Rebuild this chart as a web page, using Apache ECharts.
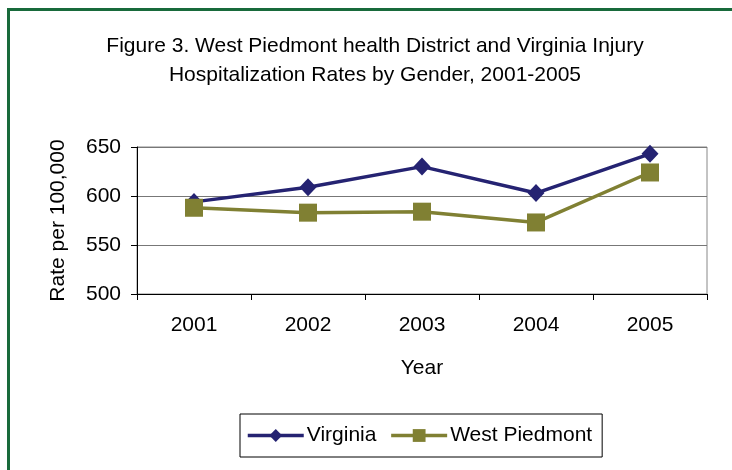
<!DOCTYPE html>
<html>
<head>
<meta charset="utf-8">
<script src="https://cdn.jsdelivr.net/npm/echarts@6/dist/echarts.min.js"></script>
<style>
  html, body { margin: 0; padding: 0; background: #fff; }
  #chart { width: 732px; height: 470px; }
</style>
</head>
<body>
<div id="chart"></div>
<script>
// data
const years = ['2001', '2002', '2003', '2004', '2005'];
const virginia = [594, 609, 630, 603, 643];
const westPiedmont = [588, 583, 584, 573, 624];
const yTicks = { min: 500, max: 650, step: 50 };

const font = '"Liberation Sans", Arial, sans-serif';
const myChart = echarts.init(document.getElementById('chart'));

const option = {
  backgroundColor: '#fff',
  animation: false,
  title: {
    text: 'Figure 3. West Piedmont health District and Virginia Injury\nHospitalization Rates by Gender, 2001-2005',
    left: 370,
    textAlign: 'center',
    top: 27,
    textStyle: { fontFamily: font, fontSize: 21, fontWeight: 'normal', color: '#000', lineHeight: 29 }
  },
  // green frame on the top/left edge
  graphic: [
    { type: 'rect', shape: { x: 7, y: 8, width: 730, height: 3 }, style: { fill: '#186a3b' } },
    { type: 'rect', shape: { x: 7, y: 8, width: 3, height: 470 }, style: { fill: '#186a3b' } }
  ],
  grid: {
    left: 137,
    right: 25,
    top: 147,
    bottom: 176,
    show: true,
    borderColor: '#888',
    borderWidth: 1
  },
  legend: {
    left: 240,
    top: 414,
    itemWidth: 56,
    itemHeight: 16,
    itemGap: 13,
    padding: [11, 10, 11, 6],
    borderColor: '#000',
    borderWidth: 1,
    lineStyle: { width: 3.5 },
    textStyle: { fontFamily: font, fontSize: 21, color: '#000', padding: [0, 0, 0, -2] },
    data: ['Virginia', 'West Piedmont']
  },
  xAxis: {
    type: 'category',
    data: years,
    boundaryGap: true,
    name: 'Year',
    nameLocation: 'middle',
    nameGap: 64,
    nameTextStyle: { fontFamily: font, fontSize: 21, color: '#000' },
    axisLine: { lineStyle: { color: '#000', width: 1 } },
    axisTick: { show: true, length: 6, lineStyle: { color: '#000' } },
    axisLabel: { fontFamily: font, fontSize: 21, color: '#000', margin: 21 },
    splitLine: { show: false }
  },
  yAxis: {
    type: 'value',
    min: yTicks.min,
    max: yTicks.max,
    interval: yTicks.step,
    name: 'Rate per 100,000',
    nameLocation: 'middle',
    nameRotate: 90,
    nameGap: 68,
    nameTextStyle: { fontFamily: font, fontSize: 21, color: '#000' },
    axisLine: { show: true, lineStyle: { color: '#000', width: 1 } },
    axisTick: { show: true, length: 6, lineStyle: { color: '#000' } },
    axisLabel: { fontFamily: font, fontSize: 21, color: '#000', margin: 16 },
    splitLine: { show: true, lineStyle: { color: '#777', width: 1 } }
  },
  series: [
    {
      name: 'Virginia',
      type: 'line',
      data: virginia,
      symbol: 'diamond',
      symbolSize: [17, 18],
      lineStyle: { color: '#252372', width: 3.5 },
      itemStyle: { color: '#252372' }
    },
    {
      name: 'West Piedmont',
      type: 'line',
      data: westPiedmont,
      symbol: 'rect',
      symbolSize: 18,
      lineStyle: { color: '#808033', width: 3.5 },
      itemStyle: { color: '#808033' }
    }
  ]
};
myChart.setOption(option);
</script>
</body>
</html>
